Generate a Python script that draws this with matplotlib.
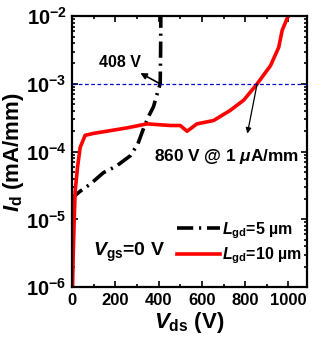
import numpy as np
import matplotlib
matplotlib.use("Agg")
import matplotlib.pyplot as plt
from matplotlib.ticker import FixedLocator, LogLocator, NullFormatter, MultipleLocator

plt.rcParams['font.family'] = ['Liberation Sans', 'DejaVu Sans']
plt.rcParams['font.weight'] = 'bold'
plt.rcParams['mathtext.fontset'] = 'custom'
plt.rcParams['mathtext.rm'] = 'Liberation Sans:bold'
plt.rcParams['mathtext.it'] = 'Liberation Sans:italic:bold'
plt.rcParams['mathtext.bf'] = 'Liberation Sans:bold'

# L_gd = 5 um (black dash-dot)
v5 = [2, 10, 37, 83, 145, 204, 269, 304, 330, 353, 376, 397, 407, 409, 410]
i5 = [1.8e-5, 2.2e-5, 2.6e-5, 3.3e-5, 4.9e-5, 6.1e-5, 8.7e-5, 1.3e-4, 2.2e-4,
      3.3e-4, 4.6e-4, 7.9e-4, 1.0e-3, 3e-3, 1e-2]

# L_gd = 10 um (red)
v10 = [2, 5, 9, 14, 25, 37, 60, 99, 176, 253, 346, 454, 500, 531, 577, 654,
       731, 793, 855, 917, 955, 971, 994, 1000]
i10 = [1e-6, 3e-6, 8.5e-6, 2.6e-5, 5.9e-5, 1.15e-4, 1.74e-4, 1.86e-4, 2.04e-4,
       2.24e-4, 2.57e-4, 2.43e-4, 2.43e-4, 2.0e-4, 2.57e-4, 2.88e-4, 4.07e-4,
       5.75e-4, 1.0e-3, 1.86e-3, 3.47e-3, 6.2e-3, 9.3e-3, 1e-2]

xticks = [0, 200, 400, 600, 800, 1000]
yticks = [1e-6, 1e-5, 1e-4, 1e-3, 1e-2]
ylabels = ['$10^{-6}$', '$10^{-5}$', '$10^{-4}$', '$10^{-3}$', '$10^{-2}$']

fig = plt.figure(figsize=(3.22, 3.51), dpi=100)
ax = fig.add_axes([0.224, 0.182, 0.729, 0.772])

ax.plot(v5, i5, color='black', lw=2.6, dashes=(4.5, 1.6, 0.6, 1.6),
        label='$L_{\\mathregular{gd}}$=5 $\\mathregular{\u00b5m}$')
ax.plot(v10, i10, color='#ff0000', lw=2.6,
        label='$L_{\\mathregular{gd}}$=10 $\\mathregular{\u00b5m}$')
ax.axhline(1e-3, color='#0000cc', lw=0.9, ls=(0, (3, 2)))

ax.set_yscale('log')
ax.set_xlim(0, 1085)
ax.set_ylim(1e-6, 1e-2)
ax.xaxis.set_major_locator(FixedLocator(xticks))
ax.xaxis.set_minor_locator(MultipleLocator(100))
ax.yaxis.set_major_locator(FixedLocator(yticks))
ax.set_yticklabels(ylabels)
ax.yaxis.set_minor_locator(LogLocator(base=10, subs=np.arange(2, 10)))
ax.yaxis.set_minor_formatter(NullFormatter())
ax.tick_params(which='both', direction='in', top=True, right=True, width=1.2)
ax.tick_params(which='major', length=4, labelsize=12, pad=4)
ax.tick_params(which='minor', length=2.5)
ax.tick_params(axis='y', which='major', labelsize=14.5, pad=4)
for s in ax.spines.values():
    s.set_linewidth(1.6)

ax.set_xlabel('$V_{\\mathregular{ds}}$ (V)', fontsize=16, fontweight='bold', labelpad=2)
ax.set_ylabel('$I_{\\mathregular{d}}$ (mA/mm)', fontsize=16, fontweight='bold', labelpad=0)

ax.annotate('408 V', xy=(407, 1e-3), xytext=(320, 2.1e-3), fontsize=11.5,
            ha='right', va='center',
            arrowprops=dict(arrowstyle='<|-', color='black', lw=1.2, shrinkA=1, shrinkB=0,
                            mutation_scale=9))
ax.annotate('', xy=(810, 1.85e-4), xytext=(855, 1e-3),
            arrowprops=dict(arrowstyle='-|>', color='black', lw=0.9, shrinkA=0, shrinkB=0,
                            mutation_scale=8))
ax.text(380, 8.5e-5, '860 V @ 1 $\\mathit{\\mu}$A/mm', fontsize=12.4, ha='left', va='center')
ax.text(95, 3.3e-6, '$V_{\\mathregular{gs}}$=0 V', fontsize=14, ha='left', va='center')

ax.legend(loc='lower right', bbox_to_anchor=(1.02, 0.042), frameon=False, fontsize=11.5,
          handlelength=2.7, handletextpad=0.1, labelspacing=0.3, borderaxespad=0.2)

fig.savefig('out.png', dpi=100)
